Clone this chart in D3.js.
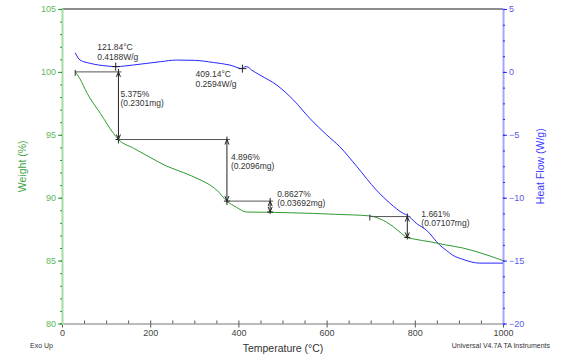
<!DOCTYPE html>
<html>
<head>
<meta charset="utf-8">
<script src="https://cdn.jsdelivr.net/npm/d3@7"></script>
<style>
  body { margin: 0; background: #fff; }
  text { font-family: "Liberation Sans", Arial, sans-serif; }
</style>
</head>
<body>
<svg id="grafica"></svg>
<script>
// TGA / DSC curve (weight % and heat flow vs temperature)

const svg_w = 564;
const svg_h = 359;
const margin = {l:62, r:61, t:9, b:35.5};
const viz_w = svg_w - margin.l - margin.r;
const viz_h = svg_h - margin.t - margin.b;

// weight curve (green)
const temp_w = [30, 40, 57, 87, 117, 128, 162, 200, 238, 275, 313, 340, 351, 374, 395, 419, 470, 520, 570, 620, 698, 721, 751, 770, 783, 800, 834, 870, 909, 950, 992, 1000];
const weight = [100, 99.5, 98.3, 96.7, 95.1, 94.63, 93.94, 93.2, 92.5, 92.0, 91.43, 90.9, 90.6, 89.73, 89.25, 88.86, 88.84, 88.8, 88.75, 88.68, 88.55, 88.32, 87.7, 87.15, 86.84, 86.7, 86.5, 86.25, 86.0, 85.6, 85.1, 85.0];

// heat flow curve (blue)
const temp_h = [30, 41, 64, 102, 122, 162, 223, 260, 300, 343, 381, 409, 415, 422, 430, 449, 487, 525, 562, 600, 630, 668, 713, 744, 774, 783, 804, 827, 857, 872, 886, 909, 947, 1000];
const heat_flow = [1.52, 0.94, 0.68, 0.47, 0.42, 0.55, 0.81, 0.94, 0.92, 0.75, 0.54, 0.26, 0.42, 0.38, 0.15, -0.25, -1.05, -2.24, -3.7, -5.0, -5.95, -7.5, -9.4, -10.45, -11.25, -11.4, -12.05, -12.6, -13.78, -14.2, -14.57, -14.9, -15.2, -15.2];

// weight steps
const step_start = [30, 128, 374, 698];
const step_temp = [128, 374, 472, 783];
const step_top = [100, 94.625, 89.729, 88.5];
const step_bottom = [94.625, 89.729, 88.866, 86.839];
const step_pct = ["5.375%", "4.896%", "0.8627%", "1.661%"];
const step_mg = ["(0.2301mg)", "(0.2096mg)", "(0.03692mg)", "(0.07107mg)"];

// heat flow peaks
const peak_temp = [121.84, 409.14];
const peak_hf = [0.4188, 0.2594];
const peak_label1 = ["121.84°C", "409.14°C"];
const peak_label2 = ["0.4188W/g", "0.2594W/g"];

// ticks
const x_ticks = [0, 200, 400, 600, 800, 1000];
const w_ticks = [80, 85, 90, 95, 100, 105];
const hf_ticks = [-20, -15, -10, -5, 0, 5];

const green = "#2f9a2f";
const blue = "#2626ff";

let svg = d3.select("#grafica")
  .attr("width", svg_w)
  .attr("height", svg_h);

let x_scale = d3.scaleLinear()
  .domain([0, 1000])
  .range([margin.l, margin.l + viz_w]);

let y_w = d3.scaleLinear()
  .domain([80, 105])
  .range([margin.t + viz_h, margin.t]);

let y_hf = d3.scaleLinear()
  .domain([-20, 5])
  .range([margin.t + viz_h, margin.t]);

// top border
svg.append("line")
  .attr("x1", margin.l).attr("x2", margin.l + viz_w)
  .attr("y1", margin.t).attr("y2", margin.t)
  .attr("stroke", "#8c8c8c").attr("stroke-width", 2);

// bottom axis (minor ticks then major)
let x_minor = svg.append("g")
  .attr("transform", `translate(0,${margin.t + viz_h})`)
  .call(d3.axisBottom(x_scale).tickValues(d3.range(0, 1001, 50)).tickSize(-3).tickFormat(""));
x_minor.select(".domain").attr("stroke", "#777");
x_minor.selectAll(".tick line").attr("stroke", "#555");

let x_axis = svg.append("g")
  .attr("transform", `translate(0,${margin.t + viz_h})`)
  .call(d3.axisBottom(x_scale).tickValues(x_ticks).tickSize(4).tickPadding(2).tickFormat(d3.format("d")));
x_axis.select(".domain").remove();
x_axis.selectAll(".tick line").attr("stroke", "#555");
x_axis.selectAll(".tick text").attr("fill", "#444").style("font-size", "9px")
  .style("font-family", "Liberation Sans, Arial, sans-serif");

// left axis
let w_minor = svg.append("g")
  .attr("transform", `translate(${margin.l},0)`)
  .call(d3.axisLeft(y_w).tickValues(d3.range(80, 105.1, 1)).tickSize(2).tickFormat(""));
w_minor.select(".domain").attr("stroke", "#a6dca6").attr("stroke-width", 2);
w_minor.selectAll(".tick line").attr("stroke", green);

let w_axis = svg.append("g")
  .attr("transform", `translate(${margin.l},0)`)
  .call(d3.axisLeft(y_w).tickValues(w_ticks).tickSize(4).tickPadding(2));
w_axis.select(".domain").remove();
w_axis.selectAll(".tick line").attr("stroke", green);
w_axis.selectAll(".tick text").attr("fill", "#5cb85c").style("font-size", "9px")
  .style("font-family", "Liberation Sans, Arial, sans-serif");

// right axis
let hf_minor = svg.append("g")
  .attr("transform", `translate(${margin.l + viz_w},0)`)
  .call(d3.axisRight(y_hf).tickValues(d3.range(-20, 5.1, 1.25)).tickSize(2).tickFormat(""));
hf_minor.select(".domain").attr("stroke", "#a6a6ff").attr("stroke-width", 2);
hf_minor.selectAll(".tick line").attr("stroke", blue);

let hf_axis = svg.append("g")
  .attr("transform", `translate(${margin.l + viz_w},0)`)
  .call(d3.axisRight(y_hf).tickValues(hf_ticks).tickSize(4).tickPadding(2));
hf_axis.select(".domain").remove();
hf_axis.selectAll(".tick line").attr("stroke", blue);
hf_axis.selectAll(".tick text").attr("fill", "#5a5ae6").style("font-size", "9px")
  .style("font-family", "Liberation Sans, Arial, sans-serif");

// axis titles
svg.append("text")
  .attr("transform", `translate(26,${margin.t + viz_h/2}) rotate(-90)`)
  .attr("text-anchor", "middle")
  .attr("fill", "#3fa33f")
  .style("font-size", "10.5px")
  .text("Weight (%)");

svg.append("text")
  .attr("transform", `translate(544,${margin.t + viz_h/2}) rotate(-90)`)
  .attr("text-anchor", "middle")
  .attr("fill", "#4040ff")
  .style("font-size", "10.5px")
  .text("Heat Flow (W/g)");

svg.append("text")
  .attr("x", 283).attr("y", 351.5)
  .attr("text-anchor", "middle")
  .attr("fill", "#333")
  .style("font-size", "10.5px")
  .text("Temperature (°C)");

svg.append("text")
  .attr("x", 30).attr("y", 348)
  .attr("fill", "#333")
  .style("font-size", "7px")
  .text("Exo Up");

svg.append("text")
  .attr("x", 550).attr("y", 348)
  .attr("text-anchor", "end")
  .attr("fill", "#333")
  .style("font-size", "7px")
  .text("Universal V4.7A TA Instruments");

// curves
let w_line = d3.line()
  .x(d => x_scale(d[0]))
  .y(d => y_w(d[1]))
  .curve(d3.curveMonotoneX);

let hf_line = d3.line()
  .x(d => x_scale(d[0]))
  .y(d => y_hf(d[1]))
  .curve(d3.curveMonotoneX);

svg.append("path")
  .datum(d3.zip(temp_h, heat_flow))
  .attr("d", hf_line)
  .attr("fill", "none")
  .attr("stroke", blue)
  .attr("stroke-width", 1);

svg.append("path")
  .datum(d3.zip(temp_w, weight))
  .attr("d", w_line)
  .attr("fill", "none")
  .attr("stroke", green)
  .attr("stroke-width", 1);

// step annotations
const label_dx = [2, 4, 7, 14];
const label_dy = [25, 20, -4.5, 0.5];

let steps = svg.append("g")
  .selectAll("g")
  .data(step_temp.map((t, i) => i))
  .enter().append("g");

steps.append("line")
  .attr("x1", i => x_scale(step_start[i]))
  .attr("x2", i => x_scale(step_temp[i]) + 3)
  .attr("y1", i => y_w(step_top[i]))
  .attr("y2", i => y_w(step_top[i]))
  .attr("stroke", "#555");

steps.append("line")
  .attr("x1", i => x_scale(step_start[i]))
  .attr("x2", i => x_scale(step_start[i]))
  .attr("y1", i => y_w(step_top[i]) - 2)
  .attr("y2", i => y_w(step_top[i]) + 4)
  .attr("stroke", "#333");

steps.append("line")
  .attr("x1", i => x_scale(step_temp[i]))
  .attr("x2", i => x_scale(step_temp[i]))
  .attr("y1", i => y_w(step_top[i]) - 3)
  .attr("y2", i => y_w(step_bottom[i]) + 2)
  .attr("stroke", "#222");

// arrow heads at both ends
steps.append("path")
  .attr("d", i => {
    let x = x_scale(step_temp[i]);
    let y1 = y_w(step_top[i]);
    let y2 = y_w(step_bottom[i]);
    return `M${x-2},${y1+5}L${x},${y1}L${x+2},${y1+5}M${x-2},${y2-5}L${x},${y2}L${x+2},${y2-5}`;
  })
  .attr("fill", "none")
  .attr("stroke", "#222");

steps.append("line")
  .attr("x1", i => x_scale(step_temp[i]) - 3)
  .attr("x2", i => x_scale(step_temp[i]) + 3)
  .attr("y1", i => y_w(step_bottom[i]))
  .attr("y2", i => y_w(step_bottom[i]))
  .attr("stroke", "#222");

steps.append("text")
  .attr("x", i => x_scale(step_temp[i]) + label_dx[i])
  .attr("y", i => y_w(step_top[i]) + label_dy[i])
  .attr("fill", "#333")
  .style("font-size", "8.5px")
  .text(i => step_pct[i]);

steps.append("text")
  .attr("x", i => x_scale(step_temp[i]) + label_dx[i])
  .attr("y", i => y_w(step_top[i]) + label_dy[i] + 9.3)
  .attr("fill", "#333")
  .style("font-size", "8.5px")
  .text(i => step_mg[i]);

// peak markers
let peak_dx = [-18.5, -47];
let peak_dy = [-17, 8];

let peaks = svg.append("g")
  .selectAll("g")
  .data(peak_temp.map((t, i) => i))
  .enter().append("g");

peaks.append("path")
  .attr("d", i => {
    let x = x_scale(peak_temp[i]);
    let y = y_hf(peak_hf[i]);
    return `M${x-4},${y}L${x+4},${y}M${x},${y-4}L${x},${y+4}`;
  })
  .attr("stroke", "#222");

peaks.append("text")
  .attr("x", i => x_scale(peak_temp[i]) + peak_dx[i])
  .attr("y", i => y_hf(peak_hf[i]) + peak_dy[i])
  .attr("fill", "#333")
  .style("font-size", "8.5px")
  .text(i => peak_label1[i]);

peaks.append("text")
  .attr("x", i => x_scale(peak_temp[i]) + peak_dx[i])
  .attr("y", i => y_hf(peak_hf[i]) + peak_dy[i] + 10)
  .attr("fill", "#333")
  .style("font-size", "8.5px")
  .text(i => peak_label2[i]);
</script>
</body>
</html>
